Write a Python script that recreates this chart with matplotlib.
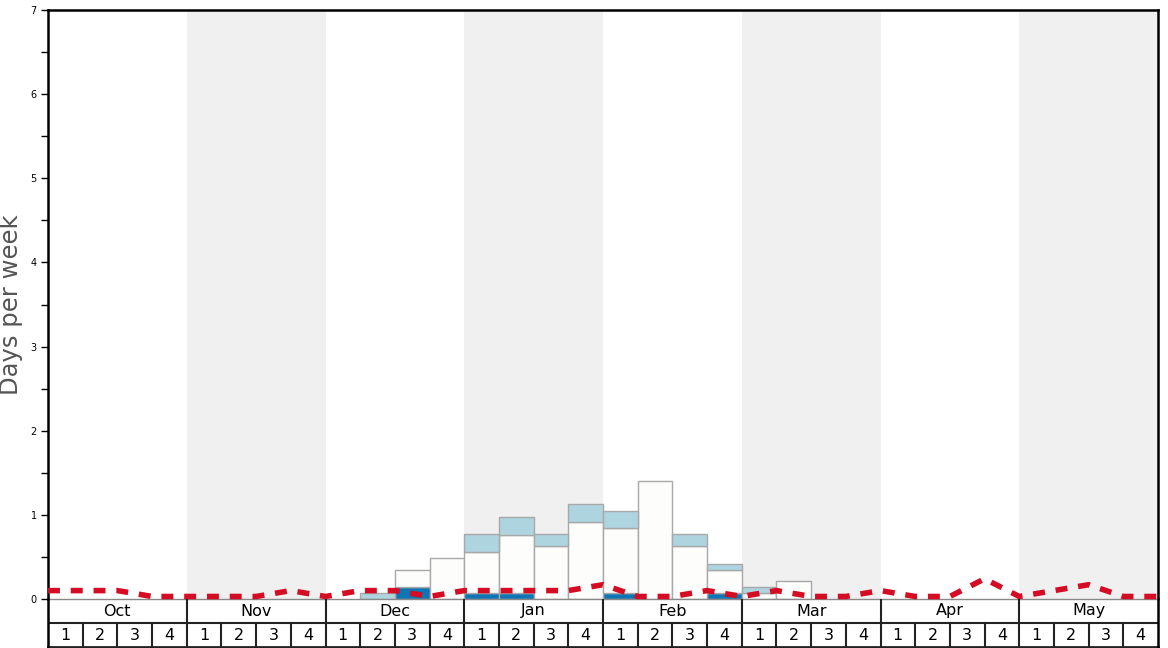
import numpy as np
import matplotlib
matplotlib.use("Agg")
import matplotlib.pyplot as plt

# --- data -------------------------------------------------------------
months = ["Oct", "Nov", "Dec", "Jan", "Feb", "Mar", "Apr", "May"]
week_labels = ["1", "2", "3", "4"]

# stacked weekly segments (days per week), 32 weeks Oct..May
dark = [0, 0, 0, 0,  0, 0, 0, 0,  0, 0, 0.14, 0,  0.07, 0.07, 0, 0,
        0.07, 0, 0, 0.07,  0, 0, 0, 0,  0, 0, 0, 0,  0, 0, 0, 0]
white = [0, 0, 0, 0,  0, 0, 0, 0,  0, 0, 0.21, 0.49,  0.49, 0.69, 0.63, 0.91,
         0.77, 1.40, 0.63, 0.28,  0.07, 0.21, 0, 0,  0, 0, 0, 0,  0, 0, 0, 0]
light = [0, 0, 0, 0,  0, 0, 0, 0,  0, 0.07, 0, 0,  0.21, 0.22, 0.14, 0.22,
         0.21, 0, 0.14, 0.07,  0.07, 0, 0, 0,  0, 0, 0, 0,  0, 0, 0, 0]

# dashed line, sampled at week boundaries (33 points)
line_vals = [0.1, 0.1, 0.1, 0.03, 0.03, 0.03, 0.03, 0.1, 0.03, 0.1, 0.1, 0.03,
             0.1, 0.1, 0.1, 0.1, 0.17, 0.03, 0.03, 0.1, 0.03, 0.1, 0.03, 0.03,
             0.1, 0.03, 0.03, 0.24, 0.03, 0.1, 0.17, 0.03, 0.03]

DARK_C, WHITE_C, LIGHT_C = "#0b75b5", "#fdfdfb", "#aed4e0"
EDGE_C, RED_C = "#a8a8a8", "#d40d24"

W, H = 1168, 648
fig = plt.figure(figsize=(W / 100, H / 100), dpi=100)
L, R, T, B = 48, 1158, 10, 599
ax = fig.add_axes([L / W, 1 - B / H, (R - L) / W, (B - T) / H])

n = len(dark)
x = np.arange(n)
ax.set_xlim(0, n)
ax.set_ylim(0, 7)

# alternating month bands
for m in range(len(months)):
    if m % 2 == 1:
        ax.axvspan(m * 4, m * 4 + 4, color="#f0f0f0", lw=0, zorder=0)

d = np.array(dark); w = np.array(white); lb = np.array(light)
kw = dict(width=1, align="edge", edgecolor=EDGE_C, linewidth=1, zorder=2)
ax.bar(x, d, color=DARK_C, **kw)
ax.bar(x, w, bottom=d, color=WHITE_C, **kw)
ax.bar(x, lb, bottom=d + w, color=LIGHT_C, **kw)
# hide edges of empty segments
for p in ax.patches:
    if p.get_height() == 0:
        p.set_visible(False)

ax.plot(np.arange(len(line_vals)), line_vals, color=RED_C, lw=4,
        dashes=(2.15, 1.95), zorder=4, clip_on=False)

ax.set_yticks(range(8))
ax.set_yticks(np.arange(0, 7.01, 0.5), minor=True)
ax.tick_params(axis="y", which="both", length=5, width=1, labelsize=7, pad=3)
ax.set_xticks([])
ax.set_ylabel("Days per week", fontsize=17.5, color="#555555")
ax.yaxis.set_label_coords(-0.0225, 0.5)

for s in ["left", "top", "right"]:
    ax.spines[s].set_linewidth(1.8)
ax.spines["bottom"].set_color("#888888")
ax.spines["bottom"].set_linewidth(1)

# month / week table beneath
tab = fig.add_axes([L / W, 1 - 647 / H, (R - L) / W, (647 - B) / H])
tab.set_xlim(0, n)
tab.set_ylim(0, 2)
tab.axis("off")
tab.axhline(1, color="#222222", lw=1.5)
tab.axhline(0, color="#222222", lw=2, clip_on=False)
for m, name in enumerate(months):
    tab.text(m * 4 + 2, 1.5, name, ha="center", va="center", fontsize=11.5)
    if m > 0:
        tab.plot([m * 4, m * 4], [1, 2], color="#222222", lw=1.5)
    for k, wl in enumerate(week_labels):
        i = m * 4 + k
        tab.text(i + 0.5, 0.48, wl, ha="center", va="center", fontsize=11.5)
        if i > 0:
            tab.plot([i, i], [0, 1], color="#222222", lw=1.5)
tab.plot([0, 0], [0, 2], color="black", lw=1.8, clip_on=False)
tab.plot([n, n], [0, 2], color="black", lw=1.8, clip_on=False)

fig.savefig("out.png", dpi=100)
